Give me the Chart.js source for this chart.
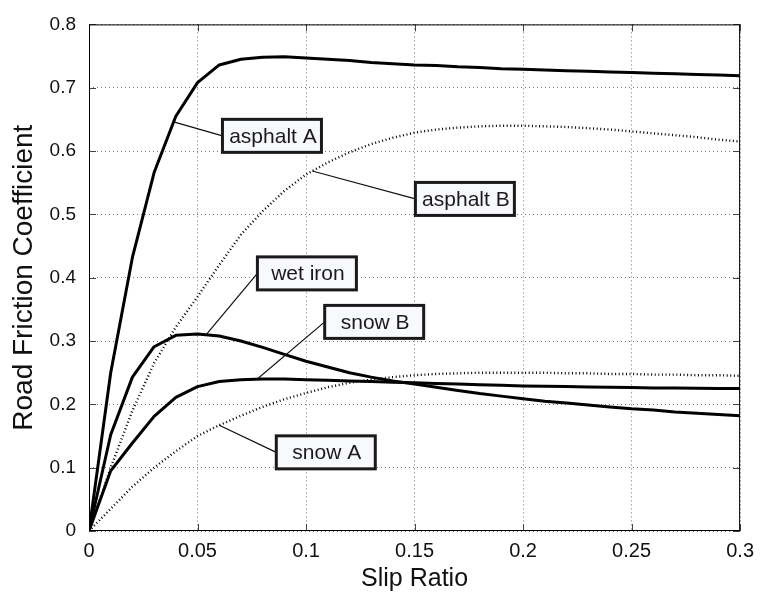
<!DOCTYPE html>
<html>
<head>
<meta charset="utf-8">
<script src="https://cdn.jsdelivr.net/npm/chart.js@4.4.0/dist/chart.umd.min.js"></script>
<style>
html,body{margin:0;padding:0;background:#ffffff;}
canvas{display:block;}
</style>
</head>
<body>
<canvas id="c" width="762" height="597"></canvas>
<script>
// ---- data ----
const slipRatio = [0,0.01,0.02,0.03,0.04,0.05,0.06,0.07,0.08,0.09,0.10,0.11,0.12,0.13,0.14,0.15,0.16,0.17,0.18,0.19,0.20,0.21,0.22,0.23,0.24,0.25,0.26,0.27,0.28,0.29,0.30];
const asphaltA  = [0,0.25,0.432,0.566,0.655,0.708,0.736,0.745,0.748,0.749,0.747,0.745,0.743,0.740,0.738,0.736,0.735,0.733,0.732,0.730,0.729,0.728,0.727,0.726,0.725,0.724,0.723,0.722,0.721,0.720,0.719];
const asphaltB  = [0,0.10,0.19,0.265,0.322,0.37,0.42,0.468,0.505,0.537,0.563,0.582,0.598,0.611,0.621,0.629,0.634,0.637,0.639,0.640,0.640,0.639,0.638,0.636,0.634,0.631,0.628,0.625,0.622,0.618,0.615];
const wetIron   = [0,0.152,0.243,0.291,0.309,0.311,0.308,0.300,0.290,0.279,0.268,0.259,0.250,0.243,0.237,0.232,0.227,0.222,0.217,0.213,0.209,0.205,0.202,0.199,0.196,0.193,0.191,0.188,0.186,0.184,0.182];
const snowB     = [0,0.095,0.139,0.181,0.211,0.228,0.236,0.239,0.240,0.240,0.239,0.238,0.237,0.236,0.235,0.234,0.233,0.232,0.231,0.230,0.229,0.2285,0.228,0.2275,0.227,0.2265,0.226,0.2258,0.2255,0.2252,0.225];
const snowA     = [0,0.035,0.07,0.10,0.126,0.15,0.167,0.182,0.196,0.208,0.218,0.227,0.234,0.239,0.243,0.246,0.248,0.249,0.250,0.250,0.250,0.250,0.249,0.249,0.248,0.248,0.247,0.247,0.246,0.246,0.245];
const seriesNames = ['asphalt A','asphalt B','wet iron','snow B','snow A'];
const xTickLabels = ['0','0.05','0.1','0.15','0.2','0.25','0.3'];
const yTickLabels = ['0','0.1','0.2','0.3','0.4','0.5','0.6','0.7','0.8'];
const xTitle = 'Slip Ratio';
const yTitle = 'Road Friction Coefficient';

// ---- styling / placement ----
const FONT = '"Liberation Sans", Arial, Helvetica, sans-serif';
const allSeries = [asphaltA, asphaltB, wetIron, snowB, snowA];
const dotted = [false, true, false, false, true];

// callouts: which series, x where the leader touches the curve, box centre (data units)
const callouts = [
  {s:0, atX:0.0390, box:[0.0843,0.624]},
  {s:1, atX:0.1029, box:[0.1732,0.5244]},
  {s:2, atX:0.0539, box:[0.1004,0.4068]},
  {s:3, atX:0.0774, box:[0.1314,0.3302]},
  {s:4, atX:0.0600, box:[0.1091,0.1242]}
];

function interp(arr, xv){
  for(let i=0;i<slipRatio.length-1;i++){
    if(xv>=slipRatio[i] && xv<=slipRatio[i+1]){
      const t=(xv-slipRatio[i])/(slipRatio[i+1]-slipRatio[i]);
      return arr[i]+(arr[i+1]-arr[i])*t;
    }
  }
  return arr[arr.length-1];
}

const datasets = allSeries.map((arr,k)=>({
  label: seriesNames[k],
  data: slipRatio.map((xv,i)=>({x:xv,y:arr[i]})),
  borderColor: '#000000',
  borderWidth: dotted[k] ? 2.4 : 3,
  borderDash: dotted[k] ? [1,2.6] : [],
  borderCapStyle: 'butt',
  borderJoinStyle: 'round',
  pointRadius: 0,
  tension: 0,
  fill: false
}));

const framePlugin = {
  id:'frame',
  afterDraw(chart){
    const {ctx, chartArea:a, scales} = chart;
    const xs = scales.x, ys = scales.y;
    ctx.save();
    function line(x1,y1,x2,y2){ctx.beginPath();ctx.moveTo(x1,y1);ctx.lineTo(x2,y2);ctx.stroke();}
    // inner tick marks
    ctx.strokeStyle='#444'; ctx.lineWidth=1; ctx.setLineDash([]);
    xs.ticks.forEach(t=>{
      const px=Math.round(xs.getPixelForValue(t.value))+0.5;
      line(px,a.bottom,px,a.bottom-7); line(px,a.top,px,a.top+7);
    });
    ys.ticks.forEach(t=>{
      const py=Math.round(ys.getPixelForValue(t.value))+0.5;
      line(a.left,py,a.left+7,py); line(a.right,py,a.right-7,py);
    });
    // frame
    ctx.strokeStyle='#000'; ctx.lineWidth=1;
    ctx.strokeRect(a.left+0.5,a.top+0.5,a.width-1,a.height-1);
    // callouts
    const w=99,h=33;
    callouts.forEach(c=>{
      const ax=xs.getPixelForValue(c.atX), ay=ys.getPixelForValue(interp(allSeries[c.s],c.atX));
      const bx=xs.getPixelForValue(c.box[0]), by=ys.getPixelForValue(c.box[1]);
      const left=bx-w/2, top=by-h/2;
      ctx.strokeStyle='#111'; ctx.lineWidth=1.2;
      line(ax,ay,left,by);
      ctx.fillStyle='#f8f9fc'; ctx.fillRect(left,top,w,h);
      ctx.strokeStyle='#1a1a1a'; ctx.lineWidth=3; ctx.strokeRect(left,top,w,h);
      ctx.fillStyle='#1a1a1a'; ctx.font='21px '+FONT;
      ctx.textAlign='center'; ctx.textBaseline='middle';
      ctx.fillText(seriesNames[c.s],bx+1,by+1);
    });
    ctx.restore();
  }
};

new Chart(document.getElementById('c'),{
  type:'line',
  data:{datasets},
  options:{
    responsive:false,
    animation:false,
    devicePixelRatio:1,
    layout:{padding:{top:16,right:20,bottom:0,left:0}},
    plugins:{legend:{display:false},tooltip:{enabled:false}},
    scales:{
      x:{
        type:'linear', min:0, max:0.3,
        afterFit(s){s.height=66;},
        ticks:{stepSize:0.05, padding:8, color:'#111', font:{family:FONT,size:20},
          callback:(v,i)=>xTickLabels[i], maxRotation:0, autoSkip:false},
        grid:{color:'#777', lineWidth:1, drawTicks:false},
        border:{display:false, dash:[1,3]},
        title:{display:true, text:xTitle, color:'#111', font:{family:FONT,size:25}, padding:{top:0,bottom:3}}
      },
      y:{
        type:'linear', min:0, max:0.8,
        afterFit(s){s.width=89;},
        ticks:{stepSize:0.1, padding:13, color:'#111', font:{family:FONT,size:19},
          callback:(v,i)=>yTickLabels[i], autoSkip:false},
        grid:{color:'#777', lineWidth:1, drawTicks:false},
        border:{display:false, dash:[1,3]},
        title:{display:true, text:yTitle, color:'#111', font:{family:FONT,size:28}, padding:{top:7,bottom:0}}
      }
    }
  },
  plugins:[framePlugin]
});
</script>
</body>
</html>
